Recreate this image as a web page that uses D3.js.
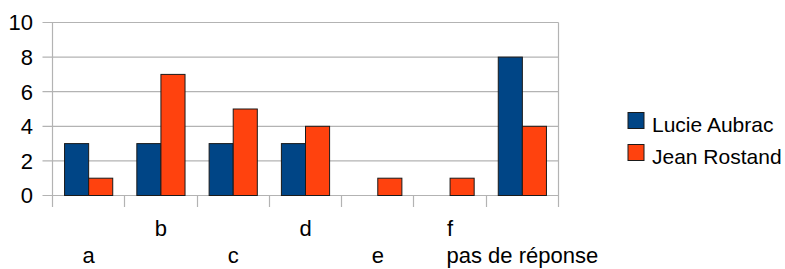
<!DOCTYPE html>
<html><head><meta charset="utf-8">
<script src="https://cdn.jsdelivr.net/npm/d3@7"></script>
<style>body{margin:0;background:#fff}svg{display:block}text{font-family:"Liberation Sans",Arial,sans-serif;font-size:22px;fill:#000}text.leg{font-size:21px}</style>
</head><body>
<script>
const categories = ["a","b","c","d","e","f","pas de réponse"];
const seriesNames = ["Lucie Aubrac","Jean Rostand"];
const lucie = [3,3,3,3,0,0,8];
const jean = [1,7,5,4,1,1,4];
const yTicks = [0,2,4,6,8,10];
const colors = ["#004586","#ff420e"];

(function(){
const W=785,H=269;
const svg=d3.select("body").append("svg").attr("width",W).attr("height",H);
const pL=52.5,pR=558.5,pT=22.5,pB=195.5;
const y=d3.scaleLinear().domain([0,10]).range([pB,pT]);
const x0=d3.scaleBand().domain(categories).range([pL,pR]).padding(0);
const bw=x0.bandwidth();
const x1=d3.scaleBand().domain(seriesNames).range([bw/6,bw*5/6]).padding(0);
const grid="#b3b3b3";

// gridlines
svg.append("g").selectAll("line").data(yTicks).join("line")
  .attr("x1",pL-10).attr("x2",pR).attr("y1",d=>y(d)).attr("y2",d=>y(d))
  .attr("stroke",grid).attr("stroke-width",1.2);
// vertical axis lines + category ticks
const vt=categories.map(c=>x0(c)).concat([pR]);
svg.append("g").selectAll("line").data(vt).join("line")
  .attr("x1",d=>Math.round(d-0.5)+0.5).attr("x2",d=>Math.round(d-0.5)+0.5)
  .attr("y1",(d,i)=>(i===0||i===vt.length-1)?pT:pB).attr("y2",pB+11.5)
  .attr("stroke",grid).attr("stroke-width",1.2);

// y labels
svg.append("g").selectAll("text").data(yTicks).join("text")
  .attr("x",33).attr("y",d=>y(d)).attr("dy","0.36em").attr("text-anchor","end").text(d=>d);

// bars
const data=categories.map((c,i)=>({c,vals:[lucie[i],jean[i]]}));
const g=svg.append("g").selectAll("g").data(data).join("g").attr("transform",d=>`translate(${x0(d.c)},0)`);
g.selectAll("rect").data(d=>d.vals.map((v,j)=>({v,j})).filter(d=>d.v>0)).join("rect")
  .attr("x",d=>x1(seriesNames[d.j])).attr("width",x1.bandwidth())
  .attr("y",d=>y(d.v)).attr("height",d=>y(0)-y(d.v))
  .attr("fill",d=>colors[d.j]).attr("stroke","#1a1a1a").attr("stroke-width",1);

// category labels (staggered)
svg.append("g").selectAll("text").data(categories).join("text")
  .attr("x",d=>x0(d)+bw/2).attr("y",(d,i)=>i%2===0?263:236)
  .attr("text-anchor","middle").text(d=>d);

// legend
const lg=svg.append("g").selectAll("g").data(seriesNames).join("g")
  .attr("transform",(d,i)=>`translate(628,${112.5+i*32})`);
lg.append("rect").attr("width",16).attr("height",16).attr("fill",(d,i)=>colors[i]).attr("stroke","#1a1a1a").attr("stroke-width",1);
lg.append("text").attr("class","leg").attr("x",24).attr("y",19.5).text(d=>d);
})();
</script>
</body></html>
